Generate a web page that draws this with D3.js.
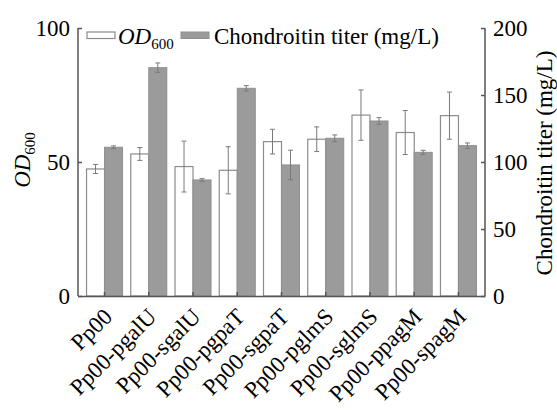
<!DOCTYPE html>
<html>
<head>
<meta charset="utf-8">
<script src="https://cdn.jsdelivr.net/npm/d3@7/dist/d3.min.js"></script>
<style>
  body { margin: 0; background: #fff; }
  svg { font-family: "Liberation Serif", "Times New Roman", serif; }
</style>
</head>
<body>
<div id="chart"></div>
<script>
// strains on the x axis
const strains = ["Pp00", "Pp00-pgalU", "Pp00-sgalU", "Pp00-pgpaT", "Pp00-sgpaT",
  "Pp00-pglmS", "Pp00-sglmS", "Pp00-ppagM", "Pp00-spagM"];

// OD600 (left axis) and its error
const od600 = [47.4, 53, 48.3, 46.9, 57.6, 58.5, 67.5, 61, 67.3];
const od600Err = [1.7, 2.4, 9.5, 8.8, 4.6, 4.6, 9.4, 8.2, 8.8];

// chondroitin titer mg/L (right axis) and its error
const titer = [111, 170.4, 86.6, 155, 97.8, 117.7, 130.6, 107.2, 112.2];
const titerErr = [1, 3.5, 1, 2, 11, 2.5, 2.5, 1.5, 2];

const leftTicks = [0, 50, 100];
const rightTicks = [0, 50, 100, 150, 200];

const width = 557, height = 410;
const plot = { left: 78, right: 485, top: 28, bottom: 296 };
const barW = 18;
const axisColor = "#555";

const svg = d3.select("#chart").append("svg")
  .attr("width", width)
  .attr("height", height);

const x = d3.scaleBand()
  .domain(strains)
  .range([plot.left, plot.right])
  .paddingInner(0)
  .paddingOuter(0.1);

const yL = d3.scaleLinear().domain([0, 100]).range([plot.bottom, plot.top]);
const yR = d3.scaleLinear().domain([0, 200]).range([plot.bottom, plot.top]);

const cx = d => x(d) + x.bandwidth() / 2;

// bars: white = OD600, grey = titer
svg.append("g").selectAll("rect.od")
  .data(strains)
  .join("rect")
  .attr("class", "od")
  .attr("x", d => cx(d) - barW)
  .attr("y", (d, i) => yL(od600[i]))
  .attr("width", barW)
  .attr("height", (d, i) => plot.bottom - yL(od600[i]))
  .attr("fill", "#fff")
  .attr("stroke", "#8c8c8c")
  .attr("stroke-width", 1.2);

svg.append("g").selectAll("rect.titer")
  .data(strains)
  .join("rect")
  .attr("class", "titer")
  .attr("x", d => cx(d))
  .attr("y", (d, i) => yR(titer[i]))
  .attr("width", barW)
  .attr("height", (d, i) => plot.bottom - yR(titer[i]))
  .attr("fill", "#9b9b9b")
  .attr("stroke", "#8f8f8f")
  .attr("stroke-width", 1);

// error bars
function errorBars(cls, xs, vals, errs, scale) {
  const g = svg.append("g").attr("class", cls)
    .attr("stroke", "#7a7a7a").attr("stroke-width", 1);
  strains.forEach((s, i) => {
    const xc = xs(s);
    const y1 = scale(vals[i] + errs[i]), y2 = scale(vals[i] - errs[i]);
    g.append("line").attr("x1", xc).attr("x2", xc).attr("y1", y1).attr("y2", y2);
    g.append("line").attr("x1", xc - 2.5).attr("x2", xc + 2.5).attr("y1", y1).attr("y2", y1);
    g.append("line").attr("x1", xc - 2.5).attr("x2", xc + 2.5).attr("y1", y2).attr("y2", y2);
  });
}
errorBars("err-od", s => cx(s) - barW / 2, od600, od600Err, yL);
errorBars("err-titer", s => cx(s) + barW / 2, titer, titerErr, yR);

// axes
const leftAxis = svg.append("g")
  .attr("transform", `translate(${plot.left},0)`)
  .call(d3.axisLeft(yL).tickValues(leftTicks).tickSizeInner(-4).tickSizeOuter(0).tickPadding(8));

const rightAxis = svg.append("g")
  .attr("transform", `translate(${plot.right},0)`)
  .call(d3.axisRight(yR).tickValues(rightTicks).tickSizeInner(-4).tickSizeOuter(0).tickPadding(8));

const bottomAxis = svg.append("g")
  .attr("transform", `translate(0,${plot.bottom})`)
  .call(d3.axisBottom(x).tickSizeInner(-4).tickSizeOuter(0).tickFormat(""));

[leftAxis, rightAxis, bottomAxis].forEach(a => {
  a.select(".domain").attr("stroke", axisColor).attr("stroke-width", 1.5);
  a.selectAll(".tick line").attr("stroke", axisColor).attr("stroke-width", 1.5);
  a.selectAll(".tick text")
    .attr("fill", "#000")
    .attr("font-family", "Liberation Serif")
    .attr("font-size", 23);
});
leftAxis.select(".domain").attr("d", `M0,${plot.top}V${plot.bottom}`);
rightAxis.select(".domain").attr("d", `M0,${plot.top}V${plot.bottom}`);

// rotated category labels
svg.append("g").selectAll("text.cat")
  .data(strains)
  .join("text")
  .attr("class", "cat")
  .attr("transform", d => `translate(${cx(d) + 9},${plot.bottom + 22}) rotate(-45)`)
  .attr("text-anchor", "end")
  .attr("font-size", 23)
  .text(d => d);

// axis titles
const leftTitle = svg.append("text")
  .attr("transform", `translate(30,160) rotate(-90)`)
  .attr("text-anchor", "middle")
  .attr("font-size", 23);
leftTitle.append("tspan").attr("font-style", "italic").text("OD");
leftTitle.append("tspan").attr("font-size", 15).attr("dy", 5).text("600");

svg.append("text")
  .attr("transform", `translate(552,163) rotate(-90)`)
  .attr("text-anchor", "middle")
  .attr("font-size", 23)
  .text("Chondroitin titer (mg/L)");

// legend
const legend = svg.append("g");
legend.append("rect")
  .attr("x", 87).attr("y", 32).attr("width", 28).attr("height", 6.5)
  .attr("fill", "#fff").attr("stroke", "#8c8c8c").attr("stroke-width", 1.2);
const legText = legend.append("text").attr("x", 118).attr("y", 43.5).attr("font-size", 23);
legText.append("tspan").attr("font-style", "italic").text("OD");
legText.append("tspan").attr("font-size", 15).attr("dy", 5).text("600");

legend.append("rect")
  .attr("x", 181).attr("y", 32).attr("width", 28).attr("height", 6.5)
  .attr("fill", "#9b9b9b").attr("stroke", "#8f8f8f");
legend.append("text").attr("x", 214).attr("y", 43.5).attr("font-size", 23)
  .text("Chondroitin titer (mg/L)");
</script>
</body>
</html>
